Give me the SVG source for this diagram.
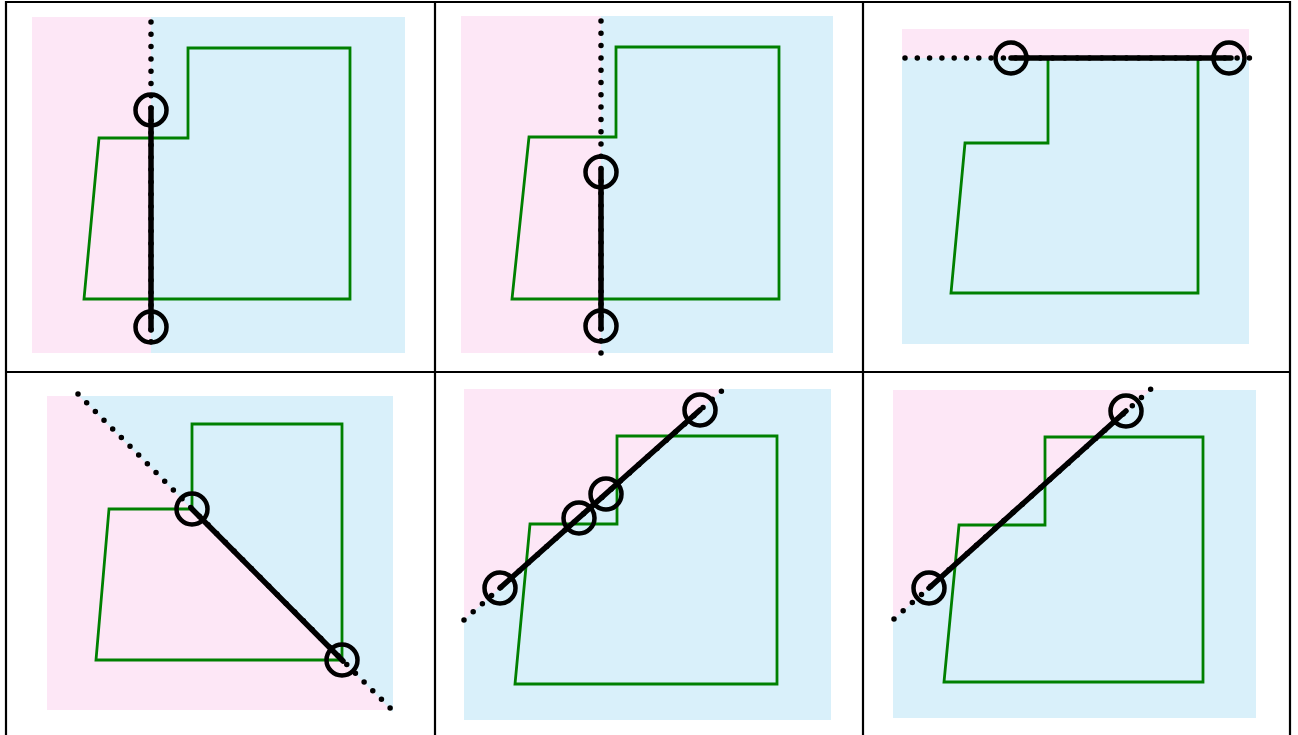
<svg xmlns="http://www.w3.org/2000/svg" width="1298" height="735" viewBox="0 0 1298 735">
<style>
.pink{fill:#fde7f6}
.blue{fill:#d9f0fa}
.poly{fill:none;stroke:#008000;stroke-width:2.8;stroke-linejoin:miter}
.dot{fill:none;stroke:#000;stroke-width:5.5;stroke-linecap:round;stroke-dasharray:0 12.3}
.seg{fill:none;stroke:#000;stroke-width:5.5;stroke-linecap:round}
.ring{fill:none;stroke:#000;stroke-width:4.5}
.grid{fill:none;stroke:#000;stroke-width:2.2}
</style>
<rect width="1298" height="735" fill="#fff"/>

<g id="panel1">
<rect class="pink" x="32" y="17" width="119" height="336"/>
<rect class="blue" x="151" y="17" width="254" height="336"/>
<polygon class="poly" points="188,48 350,48 350,299 84,299 99,138 188,138"/>
<line class="dot" x1="151" y1="22" x2="151" y2="353"/>
<line class="seg" x1="151" y1="108" x2="151" y2="330"/>
<circle class="ring" cx="151" cy="110" r="15.5"/>
<circle class="ring" cx="151" cy="327" r="15.5"/>
</g>

<g id="panel2">
<rect class="pink" x="461" y="16" width="140" height="337"/>
<rect class="blue" x="601" y="16" width="232" height="337"/>
<polygon class="poly" points="616,47 779,47 779,299 512,299 529,137 616,137"/>
<line class="dot" x1="601" y1="21" x2="601" y2="354"/>
<line class="seg" x1="601" y1="170" x2="601" y2="329"/>
<circle class="ring" cx="601" cy="172" r="15.5"/>
<circle class="ring" cx="601" cy="326" r="15.5"/>
</g>

<g id="panel3">
<rect class="pink" x="902" y="29" width="347" height="29"/>
<rect class="blue" x="902" y="58" width="347" height="286"/>
<polygon class="poly" points="1048,58 1198,58 1198,293 951,293 965,143 1048,143"/>
<line class="dot" x1="905" y1="58" x2="1252" y2="58"/>
<line class="seg" x1="1011" y1="58" x2="1231" y2="58"/>
<circle class="ring" cx="1011" cy="58" r="15.5"/>
<circle class="ring" cx="1229" cy="58" r="15.5"/>
</g>

<g id="panel4">
<rect class="pink" x="47" y="396" width="346" height="314"/>
<polygon class="blue" points="79,396 393,396 393,712"/>
<polygon class="poly" points="192,424 342,424 342,660 96,660 109,509 192,509"/>
<line class="dot" x1="78" y1="394" x2="394" y2="712"/>
<line class="seg" x1="192" y1="509" x2="343" y2="661"/>
<circle class="ring" cx="192" cy="509" r="15.5"/>
<circle class="ring" cx="342" cy="660" r="15.5"/>
</g>

<g id="panel5">
<rect class="blue" x="464" y="389" width="367" height="331"/>
<polygon class="pink" points="464,389 724,389 464,620"/>
<polygon class="poly" points="617,436 777,436 777,684 515,684 530,524 617,524"/>
<line class="dot" x1="464" y1="620" x2="725" y2="388"/>
<line class="seg" x1="500" y1="588" x2="700" y2="410"/>
<circle class="ring" cx="500" cy="588" r="15.5"/>
<circle class="ring" cx="579" cy="518" r="15.5"/>
<circle class="ring" cx="606" cy="494" r="15.5"/>
<circle class="ring" cx="700" cy="410" r="15.5"/>
</g>

<g id="panel6">
<rect class="blue" x="893" y="390" width="363" height="328"/>
<polygon class="pink" points="893,390 1151,390 893,620"/>
<polygon class="poly" points="1045,437 1203,437 1203,682 944,682 959,525 1045,525"/>
<line class="dot" x1="894" y1="619" x2="1151" y2="389"/>
<line class="seg" x1="929" y1="588" x2="1126" y2="411"/>
<circle class="ring" cx="929" cy="588" r="15.5"/>
<circle class="ring" cx="1126" cy="411" r="15.5"/>
</g>

<g id="connectors" class="grid">
<line x1="6" y1="2" x2="1290" y2="2"/>
<line x1="5" y1="372" x2="1291" y2="372"/>
<line x1="6" y1="1" x2="6" y2="735"/>
<line x1="435" y1="1" x2="435" y2="735"/>
<line x1="863" y1="1" x2="863" y2="735"/>
<line x1="1290" y1="1" x2="1290" y2="735"/>
</g>
</svg>
